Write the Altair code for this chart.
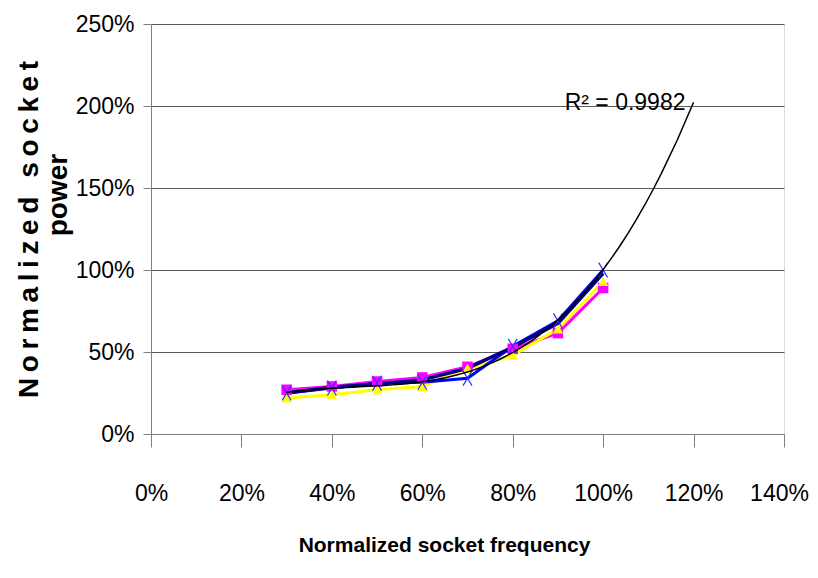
import altair as alt
import pandas as pd

freq = [0.3, 0.4, 0.5, 0.6, 0.7, 0.8, 0.9, 1.0]
navy_vals = [0.25, 0.285, 0.305, 0.33, 0.40, 0.53, 0.675, 0.98]
blue_vals = [0.25, 0.28, 0.31, 0.315, 0.34, 0.535, 0.69, 1.00]
magenta_vals = [0.27, 0.29, 0.32, 0.345, 0.41, 0.52, 0.615, 0.89]
yellow_vals = [0.22, 0.24, 0.27, 0.29, 0.40, 0.48, 0.64, 0.93]

x_ticks = [0, 0.2, 0.4, 0.6, 0.8, 1.0, 1.2, 1.4]
y_ticks = [0, 0.5, 1.0, 1.5, 2.0, 2.5]

r2_label = "R\u00b2 = 0.9982"
x_title = "Normalized socket frequency"
ts = "\u2009"
y_title_1 = ts.join("Normalized") + ts + " " + ts + ts.join("socket")
y_title_2 = "power"

FONT = "Liberation Sans, Arial, sans-serif"

def frame(vals, name):
    return pd.DataFrame({"x": freq, "y": vals, "s": name})

df_navy = frame(navy_vals, "navy")
df_blue = frame(blue_vals, "blue")
df_mag = frame(magenta_vals, "magenta")
df_yel = frame(yellow_vals, "yellow")
df_note = pd.DataFrame({"x": [1.0485], "y": [1.975], "t": [r2_label]})

x_enc = alt.X(
    "x:Q",
    scale=alt.Scale(domain=[0, 1.4], nice=False, zero=False),
    axis=alt.Axis(
        values=x_ticks, format=".0%", grid=False,
        tickSize=13, tickColor="#808080", domainColor="#808080",
        labelFont=FONT, labelFontSize=23, labelColor="black",
        labelPadding=35, labelFlush=False,
        labelOffset={"condition": {"test": "datum.value > 1.39", "value": -5}, "value": 0},
        title=x_title, titleFont=FONT, titleFontSize=21, titleFontWeight="bold",
        titleColor="black", titleX=293, titleY=111, titleBaseline="middle",
        titleAlign="center",
    ),
)
y_enc = alt.Y(
    "y:Q",
    scale=alt.Scale(domain=[0, 2.5], nice=False),
    axis=alt.Axis(
        values=y_ticks, format=".0%", grid=True, gridColor="#5a5a5a", gridWidth=1,
        tickSize=8, tickColor="#808080", domainColor="#808080",
        labelFont=FONT, labelFontSize=23, labelColor="black", labelPadding=9,
        labelFlush=False,
        title=y_title_1, titleFont=FONT, titleFontSize=28,
        titleFontWeight="bold", titleColor="black",
        titleAngle=270, titleX=-122, titleY=205, titleBaseline="middle",
        titleAlign="center",
    ),
)

def line(df, color, width):
    return alt.Chart(df).mark_line(color=color, strokeWidth=width).encode(x=x_enc, y=y_enc)

mag_line = line(df_mag, "#FF00FF", 3)
mag_pts = alt.Chart(df_mag).mark_point(shape="square", filled=True, color="#FF00FF", size=110, opacity=1).encode(x=x_enc, y=y_enc)
yel_line = line(df_yel, "#FFFF00", 3)
yel_pts = alt.Chart(df_yel).mark_point(shape="triangle-up", filled=True, color="#FFFF00", size=110, opacity=1).encode(x=x_enc, y=y_enc)
blue_line = line(df_blue, "#0000FF", 3)
navy_line = line(df_navy, "#000080", 3.5)
blue_pts = alt.Chart(df_blue).mark_point(
    shape="M-0.6,-1L0.6,1M-0.6,1L0.6,-1", filled=False, color="#3030FF",
    size=220, strokeWidth=1.2, opacity=1,
).encode(x=x_enc, y=y_enc)

trend = alt.Chart(df_blue).transform_regression(
    "x", "y", method="poly", order=3, extent=[0.3, 1.2]
).mark_line(color="black", strokeWidth=1.5).encode(x=x_enc, y=y_enc)

note = alt.Chart(df_note).mark_text(
    font=FONT, fontSize=23, align="center", baseline="alphabetic", color="black"
).encode(x=x_enc, y=y_enc, text="t:N")

power_word = alt.Chart(pd.DataFrame({"t": [y_title_2]})).mark_text(
    font=FONT, fontSize=28, fontWeight="bold", angle=270, align="center",
    baseline="middle", color="black",
).encode(x=alt.value(-92), y=alt.value(171), text="t:N")

chart = alt.layer(
    mag_line, yel_line, blue_line, navy_line, mag_pts, yel_pts, blue_pts, trend, note, power_word
).properties(
    width=633, height=410,
    padding={"left": 143, "top": 16, "right": 26, "bottom": 128},
    autosize=alt.AutoSizeParams(type="none"),
).configure_view(stroke=None).configure(background="white")

chart.save("out.html", embed_options={"renderer": "svg", "actions": False})
